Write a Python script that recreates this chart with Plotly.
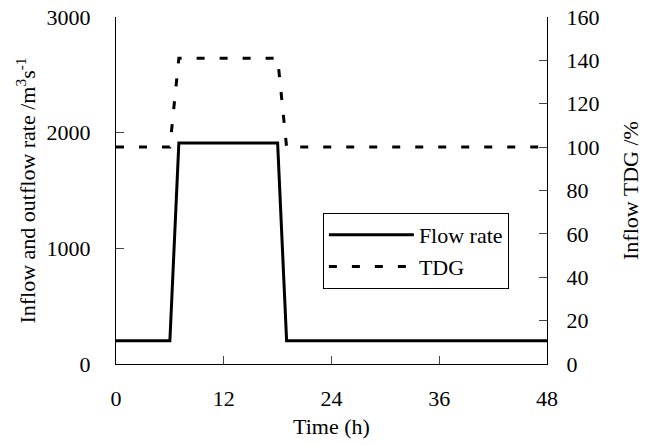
import plotly.graph_objects as go

flow_t = [0, 6, 7, 18, 19, 48]
flow_q = [200, 200, 1910, 1910, 200, 200]
tdg_t = [0, 6, 7, 18, 19, 48]
tdg_v = [100, 100, 141, 141, 100, 100]

x_ticks = [0, 12, 24, 36, 48]
fam = "Liberation Serif, Times New Roman, serif"
font = dict(family=fam, size=18, color="black")
tickfont = dict(family=fam, size=22, color="black")

fig = go.Figure()
fig.add_trace(go.Scatter(x=flow_t, y=flow_q, mode="lines", name="Flow rate",
                         line=dict(color="black", width=3)))
fig.add_trace(go.Scatter(x=tdg_t, y=tdg_v, mode="lines", name="TDG", yaxis="y2",
                         line=dict(color="black", width=3, dash="8px,15px")))

fig.update_layout(
    width=650, height=445,
    margin=dict(l=116, r=103, t=17, b=81),
    paper_bgcolor="white", plot_bgcolor="white",
    font=font,
    showlegend=True,
    legend=dict(x=0.48, y=0.435, xanchor="left", yanchor="top",
                bordercolor="black", borderwidth=1, bgcolor="white",
                font=tickfont, itemwidth=85, tracegroupgap=2),
    xaxis=dict(range=[0, 48], tickvals=x_ticks, ticks="inside", ticklen=8,
               showline=True, linecolor="black", linewidth=1, showgrid=False,
               zeroline=False, title=dict(text="Time (h)", standoff=8),
               ticklabelstandoff=15, tickfont=tickfont, automargin=False),
    yaxis=dict(range=[0, 3000], dtick=1000, ticks="inside", ticklen=8,
               showline=True, linecolor="black", linewidth=1, showgrid=False,
               zeroline=False, ticklabelstandoff=20, tickfont=tickfont, automargin=False,
               title=dict(text="Inflow and outflow rate /m<sup>3</sup>s<sup>-1</sup>", standoff=4)),
    yaxis2=dict(range=[0, 160], dtick=20, ticks="inside", ticklen=8, overlaying="y",
                side="right", showline=True, linecolor="black", linewidth=1, automargin=False,
                showgrid=False, zeroline=False, ticklabelstandoff=14, tickfont=tickfont,
                title=dict(text="Inflow TDG /%", standoff=24)),
)

fig.write_html("out.html")
